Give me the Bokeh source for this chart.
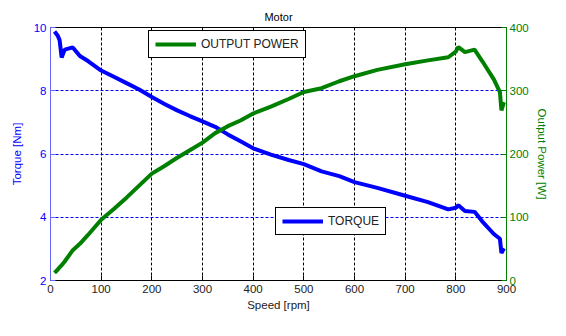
from bokeh.plotting import figure
from bokeh.models import LinearAxis, Range1d, FixedTicker, Legend, LegendItem
from bokeh.embed import file_html
from bokeh.resources import INLINE

speed = [8, 14, 18, 22, 28, 44, 58, 74, 100, 125, 150, 175, 200, 225, 250, 275,
         300, 325, 350, 375, 400, 435, 470, 500, 535, 570, 600, 645, 700, 745,
         785, 800, 805, 818, 837, 852, 875, 887, 890, 895]
torque = [9.87, 9.75, 9.6, 9.05, 9.3, 9.37, 9.1, 8.94, 8.64, 8.44, 8.24, 8.04,
          7.8, 7.58, 7.38, 7.2, 7.03, 6.86, 6.62, 6.4, 6.18, 5.98, 5.81, 5.68,
          5.45, 5.3, 5.11, 4.93, 4.68, 4.48, 4.25, 4.3, 4.38, 4.2, 4.17, 3.87,
          3.47, 3.32, 2.87, 3.02]
power = [12, 17, 21, 24, 30, 48, 58, 72, 96, 113, 131, 150, 169, 181, 194, 206,
         218, 233, 244, 253, 264, 275, 287, 298, 304, 315, 323, 333, 342, 348,
         353, 362, 369, 361, 365, 347, 318, 298, 269, 282]

x_ticks = [0, 100, 200, 300, 400, 500, 600, 700, 800, 900]
torque_ticks = [2, 4, 6, 8, 10]
power_ticks = [0, 100, 200, 300, 400]

FONT = "Liberation Sans"
BLUE = "#0000FF"
GREEN = "#008000"
FS = "11.5px"

p = figure(width=550, height=320, x_range=Range1d(0, 900), y_range=Range1d(2, 10),
           output_backend="svg", toolbar_location=None,
           min_border_left=50, min_border_right=40, min_border_top=27, min_border_bottom=40)
p.extra_y_ranges = {"power": Range1d(0, 400)}

p.title.text = "Motor"
p.title.align = "center"
p.title.text_font = FONT
p.title.text_font_size = "11px"
p.title.text_font_style = "normal"
p.title.text_color = "black"
p.title.standoff = 10

p.outline_line_color = "black"
p.outline_line_alpha = 1
p.background_fill_color = "white"
p.border_fill_color = "white"

# grids
p.xgrid.ticker = FixedTicker(ticks=x_ticks[1:-1])
p.xgrid.grid_line_color = "black"
p.xgrid.grid_line_dash = "3 2"
p.xgrid.grid_line_width = 1
p.ygrid.ticker = FixedTicker(ticks=torque_ticks[1:-1])
p.ygrid.grid_line_color = BLUE
p.ygrid.grid_line_dash = "3 2"
p.ygrid.grid_line_width = 1

# x axis
xa = p.xaxis[0]
xa.ticker = FixedTicker(ticks=x_ticks)
xa.axis_label = "Speed [rpm]"
xa.axis_line_color = "black"
xa.major_tick_line_color = "black"
xa.major_tick_in = 5
xa.major_tick_out = 0
xa.minor_tick_line_color = None
xa.major_label_text_font = FONT
xa.major_label_text_font_size = FS
xa.major_label_text_color = "#222222"
xa.major_label_standoff = 4
xa.axis_label_text_font = FONT
xa.axis_label_text_font_size = FS
xa.axis_label_text_font_style = "normal"
xa.axis_label_text_color = "#222222"
xa.axis_label_standoff = 3

# left axis
ya = p.yaxis[0]
ya.ticker = FixedTicker(ticks=torque_ticks)
ya.axis_label = "Torque [Nm]"
ya.axis_line_color = "#6666FF"
ya.major_tick_line_color = "#6666FF"
ya.major_tick_in = 5
ya.major_tick_out = 0
ya.minor_tick_line_color = None
ya.major_label_text_font = FONT
ya.major_label_text_font_size = FS
ya.major_label_text_color = BLUE
ya.major_label_standoff = 4
ya.axis_label_text_font = FONT
ya.axis_label_text_font_size = FS
ya.axis_label_text_font_style = "normal"
ya.axis_label_text_color = BLUE
ya.axis_label_standoff = 8

# right axis
ra = LinearAxis(y_range_name="power", ticker=FixedTicker(ticks=power_ticks),
                axis_label="Output Power [W]")
ra.axis_line_color = GREEN
ra.major_tick_line_color = GREEN
ra.major_tick_in = 5
ra.major_tick_out = 0
ra.minor_tick_line_color = None
ra.major_label_text_font = FONT
ra.major_label_text_font_size = FS
ra.major_label_text_color = GREEN
ra.major_label_standoff = 3
ra.axis_label_text_font = FONT
ra.axis_label_text_font_size = FS
ra.axis_label_text_font_style = "normal"
ra.axis_label_text_color = GREEN
ra.axis_label_standoff = 4
p.add_layout(ra, "right")

rt = p.line(speed, torque, line_color=BLUE, line_width=4)
rp = p.line(speed, power, line_color=GREEN, line_width=4, y_range_name="power")

def make_legend(label, rend, loc):
    lg = Legend(items=[LegendItem(label=label, renderers=[rend])], location=loc)
    lg.border_line_color = "black"
    lg.border_line_width = 1
    lg.border_line_alpha = 1
    lg.background_fill_color = "white"
    lg.background_fill_alpha = 1
    lg.label_text_font = FONT
    lg.label_text_font_size = "12px"
    lg.label_text_color = "#222222"
    lg.glyph_width = 41
    lg.glyph_height = 12
    lg.label_height = 12
    lg.label_standoff = 5
    lg.padding = 6
    lg.margin = 0
    lg.spacing = 0
    return lg

p.add_layout(make_legend("OUTPUT POWER", rp, (98, 222)), "center")
p.add_layout(make_legend("TORQUE", rt, (225, 45)), "center")

open("out.html", "w").write(file_html(p, INLINE))
